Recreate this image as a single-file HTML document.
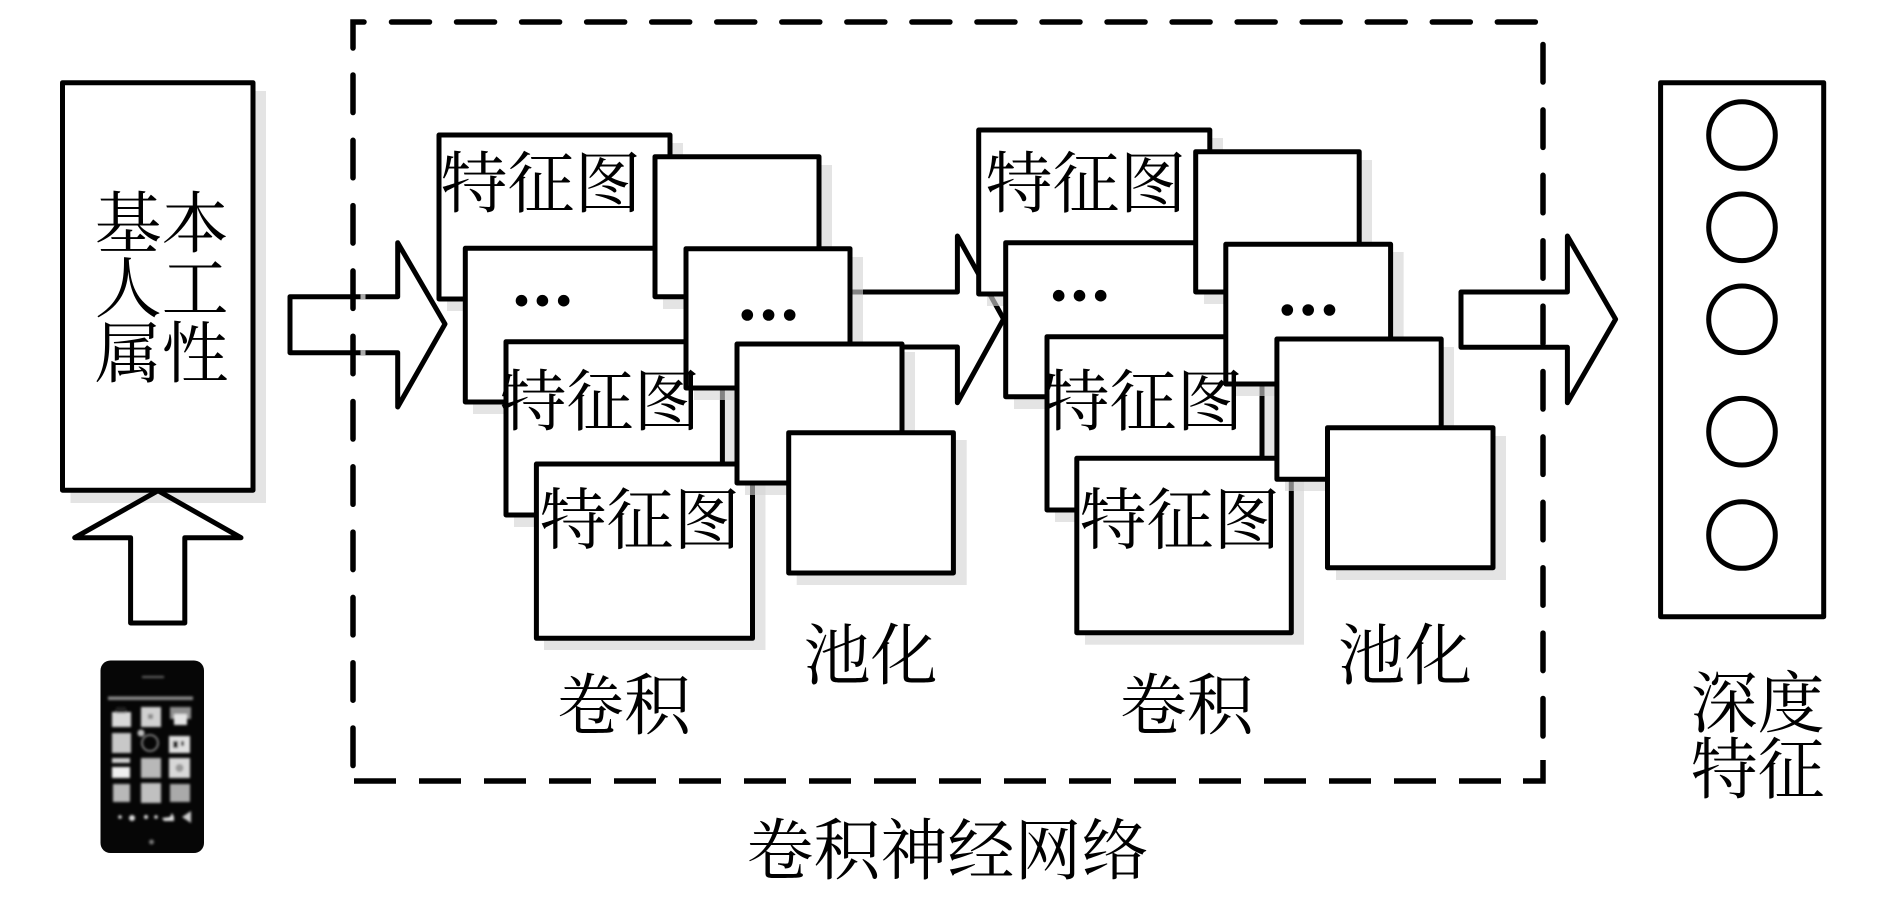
<!DOCTYPE html>
<html lang="zh">
<head>
<meta charset="utf-8">
<title>卷积神经网络</title>
<style>
html,body{margin:0;padding:0;background:#fff;width:1890px;height:911px;overflow:hidden}
svg{display:block}
text{font-family:"Liberation Serif","Noto Serif CJK SC","Noto Sans CJK SC",serif;font-size:67px;fill:#000;text-anchor:middle;dominant-baseline:central}
.b{fill:#fff;stroke:#000;stroke-width:5;stroke-linejoin:round}
.s{fill:#d4d4d4;fill-opacity:.62}
.a{fill:none;stroke:#000;stroke-width:5;stroke-linejoin:round}
.d{fill:none;stroke:#000;stroke-width:5.5}
</style>
</head>
<body>
<svg width="1890" height="911" viewBox="0 0 1890 911" xmlns="http://www.w3.org/2000/svg">
<defs><filter id="bl" x="-10%" y="-10%" width="120%" height="120%"><feGaussianBlur stdDeviation="1.3"/></filter></defs>
<rect width="1890" height="911" fill="#fff"/>

<!-- dashed box -->
<g class="d">
<path d="M364,22H353V48" stroke-linecap="round"/>
<path d="M391.5,22H1540" stroke-dasharray="38 27.05" stroke-linecap="round"/>
<path d="M1543,44.5V740" stroke-dasharray="37.5 27.9" stroke-linecap="round"/>
<path d="M1543,760V781H1523" />
<path d="M1501,781H351" stroke-dasharray="42 23"/>
<path d="M353,765.5V70" stroke-dasharray="37.5 27.8" stroke-linecap="round"/>
</g>

<!-- input box -->
<rect class="s" x="70.5" y="91" width="195.5" height="412"/>
<rect class="b" x="62.5" y="82.7" width="190.5" height="407.5"/>

<!-- arrow 1 -->
<path class="a" d="M397.7,296.7H290V352.7H397.7V407L445,324L397.7,242.7Z"/>
<rect x="360.5" y="294" width="5" height="5.2" fill="#aaa"/>
<rect x="360.5" y="350" width="5" height="5.2" fill="#aaa"/>

<!-- up arrow -->
<path class="a" d="M158,490.7L74.7,537.7H130.6V623H184.8V537.7H241Z"/>

<!-- phone -->
<g>
<rect x="100.5" y="660.5" width="103.5" height="192.5" rx="10" fill="#060606"/>
<g filter="url(#bl)">
<rect x="108" y="696.5" width="85" height="3.500" fill="#8a8a8a"/>
<rect x="142" y="676" width="22" height="2" fill="#666"/>
<rect x="112" y="712" width="19" height="15" fill="#d8d8d8"/>
<rect x="116" y="707" width="10" height="6" fill="#222"/>
<rect x="141" y="707" width="20" height="20" fill="#d0d0d0"/>
<rect x="148" y="714" width="5" height="5" fill="#8a8a8a"/>
<rect x="170" y="707" width="21" height="12" fill="#8f8f8f"/>
<rect x="174" y="714" width="13" height="11" fill="#e4e4e4"/>
<rect x="112" y="733" width="19" height="20" fill="#c8c8c8"/>
<circle cx="150" cy="743" r="8" fill="none" stroke="#777" stroke-width="2"/>
<circle cx="141" cy="733" r="3.500" fill="#bbb"/>
<rect x="169" y="736" width="21" height="17" fill="#e0e0e0"/>
<rect x="173" y="741" width="5" height="7" fill="#222"/>
<rect x="181" y="741" width="3" height="5" fill="#333"/>
<rect x="112" y="758" width="18" height="5" fill="#cfcfcf"/>
<rect x="112" y="767" width="18" height="11" fill="#efefef"/>
<rect x="141" y="758" width="20" height="20" fill="#b8b8b8"/>
<rect x="169" y="758" width="21" height="20" fill="#d8d8d8"/>
<circle cx="179.500" cy="768" r="4" fill="#999"/>
<rect x="113" y="784" width="17" height="18" fill="#b8b8b8"/>
<rect x="141" y="783" width="20" height="20" fill="#c0c0c0"/>
<rect x="170" y="784" width="20" height="18" fill="#aaa"/>
<circle cx="120" cy="817" r="1.800" fill="#ddd"/><circle cx="132" cy="818" r="3" fill="#ddd"/>
<circle cx="146" cy="817" r="2" fill="#ddd"/><circle cx="156" cy="817" r="1.800" fill="#ddd"/>
<path d="M162,818l8,-1 2,-4 2,4v4h-10z" fill="#ddd"/>
<path d="M182,817l9,-6v12z" fill="#ccc"/>
<circle cx="151.500" cy="842" r="2.500" fill="#777"/>
</g>
</g>

<!-- arrow 2 behind feature maps -->
<path class="a" d="M957.400,292H850V347H957.400V402.700L1003.600,319L957.400,236Z"/>

<!-- first group: convolution -->
<rect class="s" x="447" y="143" width="236" height="168"/>
<rect class="b" x="439" y="135" width="231" height="164"/>
<rect class="s" x="473" y="256" width="240" height="158"/>
<rect class="b" x="465.300" y="248.300" width="232" height="153.700"/>
<rect class="s" x="514" y="350" width="221" height="177"/>
<rect class="b" x="506" y="341.700" width="216.400" height="173.300"/>
<rect class="s" x="544" y="472" width="221.500" height="178"/>
<rect class="b" x="536.400" y="464" width="216.100" height="174.300"/>
<!-- first group: pooling -->
<rect class="s" x="663" y="165" width="169" height="144"/>
<rect class="b" x="655" y="156.700" width="164" height="140"/>
<rect class="s" x="694" y="257" width="169" height="143"/>
<rect class="b" x="686" y="248.700" width="164" height="139.300"/>
<rect class="s" x="745" y="352" width="170" height="143"/>
<rect class="b" x="737" y="344" width="165" height="139"/>
<rect class="s" x="796.700" y="440" width="170" height="145"/>
<rect class="b" x="788.700" y="432.700" width="164.700" height="140.300"/>

<!-- second group: convolution -->
<rect class="s" x="987" y="138" width="236" height="168"/>
<rect class="b" x="978.700" y="130" width="231.100" height="164"/>
<rect class="s" x="1014" y="251" width="240" height="158"/>
<rect class="b" x="1005.700" y="242.700" width="232" height="154"/>
<rect class="s" x="1055" y="345" width="220" height="177"/>
<rect class="b" x="1047" y="336.700" width="215" height="173.300"/>
<rect class="s" x="1085" y="466" width="219" height="178.700"/>
<rect class="b" x="1076.800" y="458.300" width="214.500" height="174.400"/>
<!-- second group: pooling -->
<rect class="s" x="1204" y="160" width="168" height="144"/>
<rect class="b" x="1195.700" y="151.700" width="163.500" height="140.300"/>
<rect class="s" x="1234" y="252" width="169.600" height="144"/>
<rect class="b" x="1225.800" y="244.300" width="164.800" height="139.700"/>
<rect class="s" x="1285" y="347" width="169" height="144"/>
<rect class="b" x="1276.900" y="339" width="164.300" height="140.300"/>
<rect class="s" x="1336" y="436" width="170" height="144"/>
<rect class="b" x="1327.500" y="427.700" width="165.500" height="140"/>

<!-- dots -->
<g fill="#000">
<circle cx="521.500" cy="300.700" r="5.800"/><circle cx="542.400" cy="300.700" r="5.800"/><circle cx="563.700" cy="300.700" r="5.800"/>
<circle cx="747.300" cy="315" r="5.800"/><circle cx="768.600" cy="315" r="5.800"/><circle cx="789.700" cy="315" r="5.800"/>
<circle cx="1058.700" cy="295.700" r="5.800"/><circle cx="1079.500" cy="295.700" r="5.800"/><circle cx="1100.700" cy="295.700" r="5.800"/>
<circle cx="1287.300" cy="310" r="5.800"/><circle cx="1308.200" cy="310" r="5.800"/><circle cx="1329.500" cy="310" r="5.800"/>
</g>

<!-- arrow 3 -->
<path class="a" d="M1567.400,292H1461V347.300H1567.400V402.700L1615.600,319.300L1567.400,236Z"/>

<!-- output box -->
<rect class="b" x="1660.600" y="82.700" width="163.100" height="534"/>
<g fill="none" stroke="#000" stroke-width="5">
<circle cx="1742" cy="135" r="33.300"/>
<circle cx="1742" cy="227.300" r="33.300"/>
<circle cx="1742" cy="319.300" r="33.300"/>
<circle cx="1742" cy="431.700" r="33.300"/>
<circle cx="1742" cy="535" r="33.300"/>
</g>

<!-- labels -->
<text x="161.700" y="225">基本</text>
<text x="161.700" y="290">人工</text>
<text x="161.700" y="355">属性</text>
<text x="541" y="185">特征图</text>
<text x="600" y="403">特征图</text>
<text x="640" y="521.700">特征图</text>
<text x="1086" y="185">特征图</text>
<text x="1143" y="403">特征图</text>
<text x="1180" y="521.700">特征图</text>
<text x="624" y="707">卷积</text>
<text x="870.600" y="657">池化</text>
<text x="1186.800" y="707">卷积</text>
<text x="1405" y="657">池化</text>
<text x="947.500" y="852" style="font-size:67px">卷积神经网络</text>
<text x="1757.600" y="705">深度</text>
<text x="1757.600" y="771">特征</text>
</svg>
</body>
</html>
